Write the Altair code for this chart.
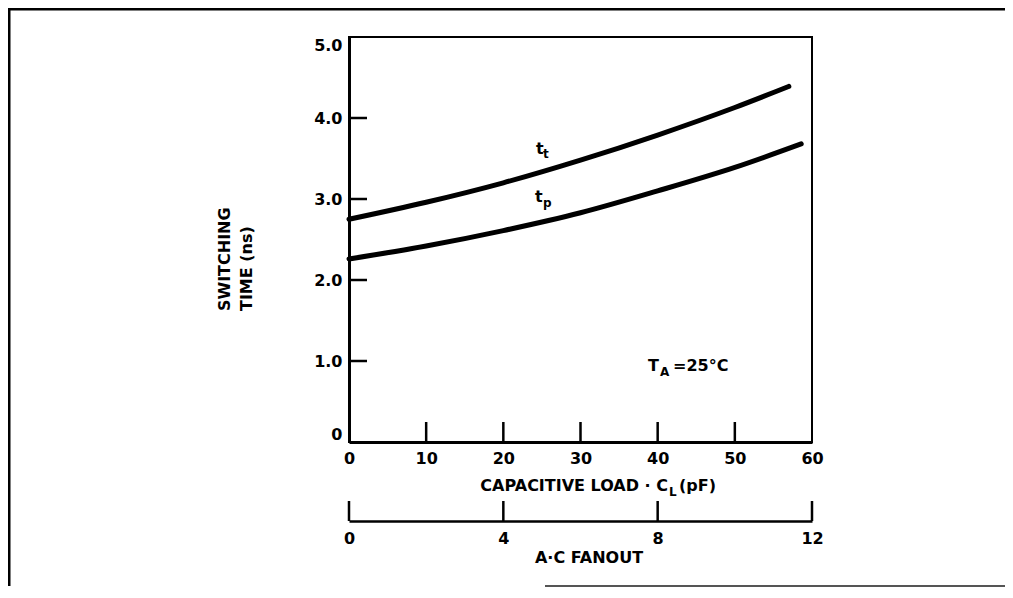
import altair as alt
import pandas as pd

# ---- data ----
cl_tt = [0, 10, 20, 30, 40, 50, 57]
tt = [2.75, 2.96, 3.20, 3.48, 3.79, 4.13, 4.39]
cl_tp = [0, 10, 20, 30, 40, 50, 58.6]
tp = [2.26, 2.42, 2.61, 2.83, 3.10, 3.39, 3.68]

x_ticks = [0, 10, 20, 30, 40, 50, 60]
x_inner_ticks = [10, 20, 30, 40, 50]
y_ticks = [0, 1, 2, 3, 4, 5]
y_inner_ticks = [1, 2, 3, 4]
fanout_ticks = [0, 4, 8, 12]

FONT = "DejaVu Sans"
W, H = 463, 405

curves_df = pd.DataFrame(
    {"cl": cl_tt + cl_tp,
     "t": tt + tp,
     "series": ["tt"] * len(cl_tt) + ["tp"] * len(cl_tp)}
)

xscale = alt.Scale(domain=[0, 60], nice=False, zero=False)
yscale = alt.Scale(domain=[0, 5], nice=False, zero=False)

xaxis = alt.Axis(values=x_ticks, format="d", title=None, labelPadding=8,
                 labelFlush=False, domainWidth=3, domainColor="black")
yaxis = alt.Axis(values=y_ticks, title=None, labelPadding=7, labelFlush=True,
                 labelExpr="datum.value == 0 ? '0' : format(datum.value, '.1f')",
                 domainWidth=3, domainColor="black")

curves = alt.Chart(curves_df).mark_line(
    color="black", strokeWidth=5, strokeCap="round", interpolate="monotone"
).encode(
    x=alt.X("cl:Q", scale=xscale, axis=xaxis),
    y=alt.Y("t:Q", scale=yscale, axis=yaxis),
    detail="series:N",
)

ytick_layer = alt.Chart(pd.DataFrame({"v": y_inner_ticks})).mark_rule(
    color="black", strokeWidth=2.5
).encode(
    y=alt.Y("v:Q", scale=yscale, axis=yaxis),
    x=alt.value(0), x2=alt.value(18),
)

xtick_layer = alt.Chart(pd.DataFrame({"v": x_inner_ticks})).mark_rule(
    color="black", strokeWidth=2.5
).encode(
    x=alt.X("v:Q", scale=xscale, axis=xaxis),
    y=alt.value(H), y2=alt.value(H - 20),
)


def txt(s, x, y, size=16, align="left", angle=0, baseline="middle"):
    kw = dict(text=s, font=FONT, fontWeight="bold", fontSize=size,
              align=align, baseline=baseline, color="black")
    if angle:
        kw["angle"] = angle
    return alt.Chart(alt.Data(values=[{}])).mark_text(**kw).encode(
        x=alt.value(x), y=alt.value(y)
    )


texts = [
    # y title
    txt("SWITCHING", -124, 274, angle=270),
    txt("TIME (ns)", -102, 274, angle=270),
    # x title
    txt("CAPACITIVE LOAD · C", 319, 449, align="right"),
    txt("L", 320, 455, size=12),
    txt("(pF)", 330, 449),
    # fanout title
    txt("A·C FANOUT", 240, 521, align="center"),
    # T_A = 25 °C
    txt("T", 299, 329),
    txt("A", 311, 335, size=12),
    txt("=25°C", 324, 329),
    # curve labels
    txt("t", 187, 112),
    txt("t", 194, 117, size=12),
    txt("t", 186, 160),
    txt("p", 194, 166, size=12),
]

frame = [
    alt.Chart(alt.Data(values=[{}])).mark_rule(color="black", strokeWidth=3).encode(
        x=alt.value(-340), y=alt.value(-29), y2=alt.value(549)),
    alt.Chart(alt.Data(values=[{}])).mark_rule(color="black", strokeWidth=3).encode(
        x=alt.value(-341.5), x2=alt.value(656), y=alt.value(-28)),
    alt.Chart(alt.Data(values=[{}])).mark_rule(color="#555555", strokeWidth=2).encode(
        x=alt.value(196), x2=alt.value(656), y=alt.value(549)),
]

main = alt.layer(curves, ytick_layer, xtick_layer, *texts, *frame)

fan = alt.Chart(pd.DataFrame({"f": fanout_ticks})).mark_rule(
    color="black", strokeWidth=2.5
).encode(
    x=alt.X("f:Q", scale=alt.Scale(domain=[0, 12], nice=False, zero=False),
            axis=alt.Axis(orient="bottom", offset=79, values=fanout_ticks, title=None,
                          labelPadding=9, labelFlush=False, domainWidth=2.5,
                          domainColor="black")),
    y=alt.value(H + 79), y2=alt.value(H + 59),
)

chart = alt.layer(main, fan).resolve_scale(x="independent").properties(
    width=W, height=H,
    padding={"left": 341, "top": 29, "right": 193, "bottom": 146},
    autosize=alt.AutoSizeParams(type="none"),
    background="white",
).configure_view(
    stroke="black", strokeWidth=2
).configure_axis(
    labelFont=FONT, labelFontWeight="bold", labelFontSize=16, labelColor="black",
    grid=False, ticks=False, tickSize=0,
)

chart.save("out.html", embed_options={"renderer": "svg", "actions": False})
